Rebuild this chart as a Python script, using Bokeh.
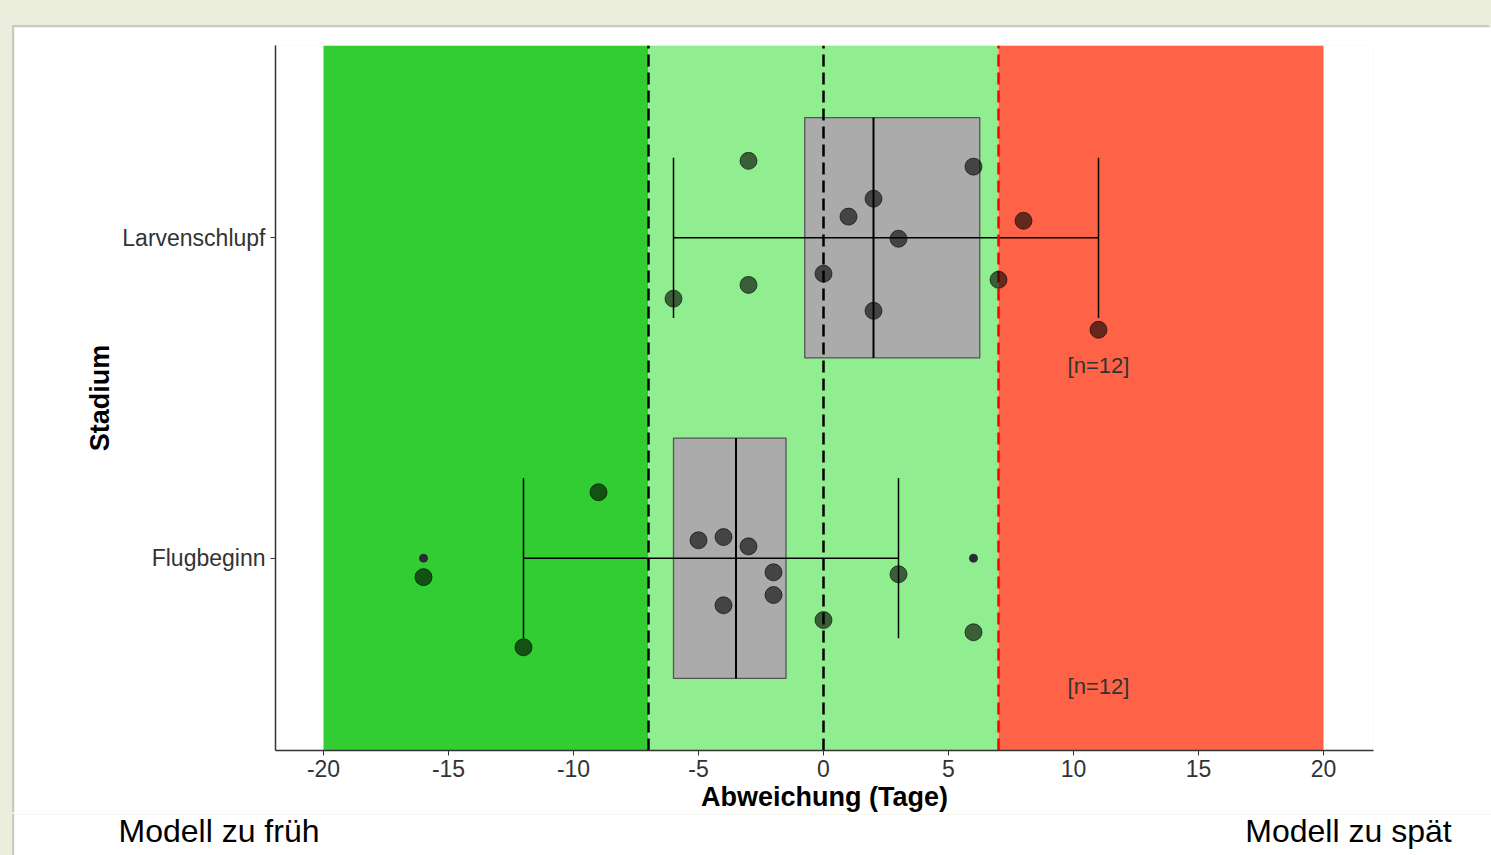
from bokeh.plotting import figure
from bokeh.models import FixedTicker, Range1d
from bokeh.layouts import column, row
from bokeh.core.properties import value
from bokeh.embed import file_html
from bokeh.resources import INLINE

# ---------------- data ----------------
stages = ["Flugbeginn", "Larvenschlupf"]
stage_pos = [1, 2]

# box statistics (days)
q1 = [-6.0, -0.75]
median = [-3.5, 2.0]
q3 = [-1.5, 6.25]
whisker_lo = [-12.0, -6.0]
whisker_hi = [3.0, 11.0]
n_obs = [12, 12]

# outliers (small dots, Flugbeginn)
outlier_x = [-16.0, 6.0]
outlier_stage = [1, 1]

flug_x = [-9, -5, -4, -3, -16, -2, 3, -4, -2, 0, 6, -12]
flug_jit = [0.206, 0.056, 0.066, 0.037, -0.059, -0.044, -0.050, -0.147, -0.115, -0.193, -0.231, -0.278]
larv_x = [-3, 6, 2, 1, 8, 3, 0, 7, -6, -3, 2, 11]
larv_jit = [0.240, 0.222, 0.122, 0.066, 0.053, -0.003, -0.112, -0.131, -0.190, -0.147, -0.228, -0.287]

# assessment zones
zone_left = [-20, -7, 7]
zone_right = [-7, 7, 20]
zone_colors = ["#32CD32", "#90EE90", "#FF6347"]
ref_lines = [-7, 0, 7]
ref_colors = ["#000000", "#000000", "#FF0000"]

x_ticks = [-20, -15, -10, -5, 0, 5, 10, 15, 20]
side_texts = ["Modell  zu früh", "Modell  zu spät"]

FONT = "Liberation Sans"
TXT = "#333333"

# ---------------- main figure ----------------
p = figure(width=1477, height=787, x_range=(-21.92, 22.0), y_range=(0.4, 2.6),
           output_backend="svg", toolbar_location=None,
           min_border_left=261, min_border_right=118, min_border_top=18, min_border_bottom=64)
p.background_fill_color = "white"
p.border_fill_color = "white"
p.outline_line_color = None
p.xgrid.visible = False
p.ygrid.visible = False
p.styles = {"box-shadow": "-2px -2px 0 0 #c8c8c8"}

# zones
p.quad(left=zone_left, right=zone_right, bottom=0.4, top=2.6, fill_color=zone_colors, line_color=None)

# boxes
hw = 0.375
p.quad(left=q1, right=q3, bottom=[s - hw for s in stage_pos], top=[s + hw for s in stage_pos],
       fill_color="#ABABAB", line_color="#555555", line_width=1.3)

# whiskers (error-bar style)
p.segment(x0=whisker_lo, y0=stage_pos, x1=whisker_hi, y1=stage_pos, line_color="black", line_width=1.5)
cap = 0.25
p.segment(x0=whisker_lo, y0=[s - cap for s in stage_pos], x1=whisker_lo, y1=[s + cap for s in stage_pos],
          line_color="black", line_width=1.5)
p.segment(x0=whisker_hi, y0=[s - cap for s in stage_pos], x1=whisker_hi, y1=[s + cap for s in stage_pos],
          line_color="black", line_width=1.5)
# medians
p.segment(x0=median, y0=[s - hw for s in stage_pos], x1=median, y1=[s + hw for s in stage_pos],
          line_color="black", line_width=2)

# reference lines
for xv, c in zip(ref_lines, ref_colors):
    p.segment(x0=[xv], y0=[0.4], x1=[xv], y1=[2.6], line_color=c, line_width=2.5, line_dash="12 6")

# points
p.scatter(x=flug_x, y=[1 + j for j in flug_jit], size=17, fill_color="black", fill_alpha=0.6,
          line_color="black", line_alpha=0.6, line_width=1)
p.scatter(x=larv_x, y=[2 + j for j in larv_jit], size=17, fill_color="black", fill_alpha=0.6,
          line_color="black", line_alpha=0.6, line_width=1)

# outliers
p.scatter(x=outlier_x, y=outlier_stage, size=8, fill_color="#2b2b38", line_color="#2b2b38")

# n labels
n_x = max(larv_x + flug_x)
p.text(x=[n_x] * len(stage_pos), y=[s - 0.4 for s in stage_pos], text=["[n=%d]" % n for n in n_obs],
       text_font=value(FONT), text_font_size="22px", text_color=TXT,
       text_align="center", text_baseline="middle")

# axes
p.xaxis.ticker = FixedTicker(ticks=x_ticks)
p.xaxis.major_label_overrides = {t: str(t) for t in x_ticks}
p.yaxis.ticker = FixedTicker(ticks=stage_pos)
p.yaxis.major_label_overrides = {pos: name for pos, name in zip(stage_pos, stages)}
for ax in (p.xaxis[0], p.yaxis[0]):
    ax.axis_line_color = "#333333"
    ax.axis_line_width = 1.5
    ax.major_tick_line_color = "#333333"
    ax.major_tick_out = 5
    ax.major_tick_in = 0
    ax.minor_tick_line_color = None
    ax.major_label_text_font = FONT
    ax.major_label_text_font_size = "23px"
    ax.major_label_text_color = TXT
    ax.axis_label_text_font = FONT
    ax.axis_label_text_font_size = "27px"
    ax.axis_label_text_font_style = "bold"
    ax.axis_label_text_color = "black"
p.xaxis.axis_label = "Abweichung (Tage)"
p.yaxis.axis_label = "Stadium"
p.xaxis.axis_label_standoff = 2
p.xaxis.major_label_standoff = 4
p.yaxis.axis_label_standoff = 4
p.yaxis.major_label_orientation = "horizontal"

# ---------------- bottom strip with side annotations ----------------
p2 = figure(width=1477, height=41, x_range=Range1d(-32.36, 26.72), y_range=Range1d(0, 41),
            output_backend="svg", toolbar_location=None,
            min_border_left=0, min_border_right=0, min_border_top=0, min_border_bottom=0)
p2.axis.visible = False
p2.xgrid.visible = False
p2.ygrid.visible = False
p2.outline_line_color = None
p2.background_fill_color = "white"
p2.border_fill_color = "white"
p2.styles = {"box-shadow": "-2px 0 0 0 #c8c8c8"}
p2.text(x=[-28.2], y=[25], text=[side_texts[0]], text_font=value(FONT), text_font_size="32px",
        text_color="black", text_align="left", text_baseline="alphabetic")
p2.text(x=[25.48], y=[25], text=[side_texts[1]], text_font=value(FONT), text_font_size="32px",
        text_color="black", text_align="right", text_baseline="alphabetic")

layout = column(p, row(p2), styles={"background-color": "#EBEEDD", "padding-top": "27px", "padding-left": "14px"})

open("out.html", "w").write(file_html(layout, INLINE))
